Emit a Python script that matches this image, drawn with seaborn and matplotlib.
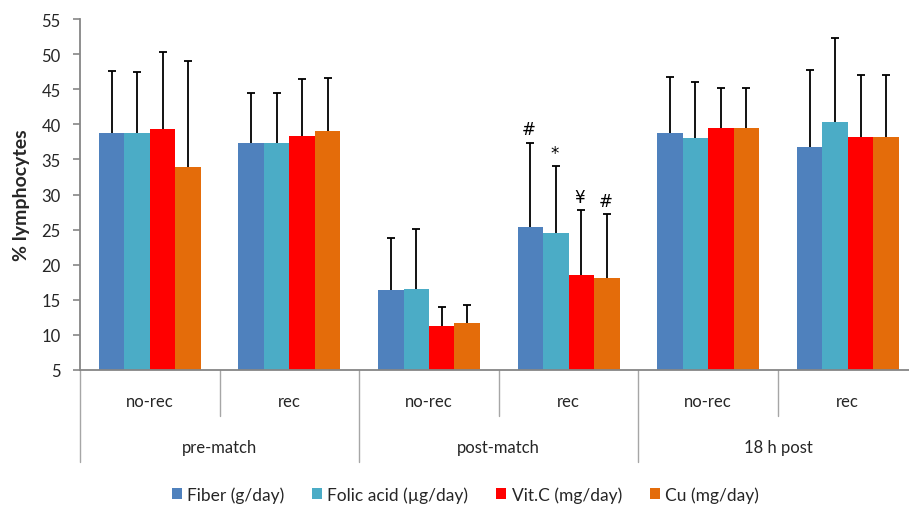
import pandas as pd
import numpy as np
import seaborn as sns
import matplotlib.pyplot as plt
from matplotlib.transforms import blended_transform_factory

sns.set_style('white')
plt.rcParams['font.family'] = ['Lato', 'DejaVu Sans']

phases = ['pre-match', 'post-match', '18 h post']
recs = ['no-rec', 'rec']
nutrients = ['Fiber (g/day)', 'Folic acid (µg/day)', 'Vit.C (mg/day)', 'Cu (mg/day)']
colors = ['#4F81BD', '#4BACC6', '#FF0000', '#E46C0A']

# means, one value per phase/rec condition
fiber = [38.8, 37.4, 16.4, 25.4, 38.7, 36.7]
folic = [38.8, 37.3, 16.6, 24.5, 38.1, 40.3]
vitc = [39.3, 38.4, 11.2, 18.6, 39.5, 38.2]
cu = [33.9, 39.1, 11.7, 18.1, 39.5, 38.2]

# SD (upper error bar only)
fiber_sd = [8.8, 7.0, 7.4, 12.0, 8.1, 11.0]
folic_sd = [8.6, 7.1, 8.5, 9.6, 7.9, 12.0]
vitc_sd = [11.0, 8.0, 2.8, 9.2, 5.7, 8.8]
cu_sd = [15.1, 7.5, 2.6, 9.1, 5.7, 8.8]

# significance marks for post-match / rec
marks = ['#', '*', '¥', '#']
mark_cond = 3

conds = [p + '|' + r for p in phases for r in recs]
means = [fiber, folic, vitc, cu]
sds = [fiber_sd, folic_sd, vitc_sd, cu_sd]

rows = []
for n, m, s in zip(nutrients, means, sds):
    for c, v, e in zip(conds, m, s):
        rows.append({'cond': c, 'nutrient': n, 'value': v, 'sd': e})
df = pd.DataFrame(rows)

fig = plt.figure(figsize=(9.09, 5.06), dpi=100)
ax = fig.add_axes([80 / 909, 135 / 506, 837.6 / 909, 351 / 506])

sns.barplot(data=df, x='cond', y='value', hue='nutrient', order=conds,
            hue_order=nutrients, palette=colors, width=0.73, gap=0,
            errorbar=None, linewidth=0, saturation=1, ax=ax)

bar_conts = list(ax.containers)
for j, cont in enumerate(bar_conts):
    xs = [b.get_x() + b.get_width() / 2 for b in cont]
    hs = [b.get_height() for b in cont]
    eb = ax.errorbar(xs, hs, yerr=[np.zeros(len(hs)), sds[j]], fmt='none',
                     ecolor='black', elinewidth=1.3, capsize=3.2, capthick=1.3)
    eb[1][0].set_visible(False)  # no cap at the bar top
    top = hs[mark_cond] + sds[j][mark_cond]
    ax.annotate(marks[j], (xs[mark_cond], top), xytext=(-1, 3),
                textcoords='offset points', ha='center', va='bottom',
                fontsize=12, color='black', family=['DejaVu Sans'])

ax.set_xlim(-0.5, 5.5)
ax.set_ylim(5, 55)
ax.set_yticks(range(5, 56, 5))
ax.tick_params(axis='y', labelsize=12, length=5, width=1.2,
               color='#868686', direction='out', left=True, pad=9)
ax.set_xticks([])
ax.set_xlabel('')
ax.set_ylabel('% lymphocytes', fontsize=14, fontweight='bold')
ax.yaxis.set_label_coords(-0.06, 0.5)
for side in ['top', 'right']:
    ax.spines[side].set_visible(False)
for side in ['left', 'bottom']:
    ax.spines[side].set_color('#868686')
    ax.spines[side].set_linewidth(1.3)

# hierarchical category axis
tr = blended_transform_factory(ax.transData, ax.transAxes)
for i, c in enumerate(conds):
    ax.text(i, -0.088, c.split('|')[1], transform=tr, ha='center',
            va='center', fontsize=12)
    if i % 2 == 1:
        ax.plot([i - 0.5, i - 0.5], [0, -0.131], transform=tr,
                color='#A6A6A6', lw=1, clip_on=False)
for k, p in enumerate(phases):
    ax.text(2 * k + 0.5, -0.219, p, transform=tr, ha='center',
            va='center', fontsize=12)
    ax.plot([2 * k - 0.5, 2 * k - 0.5], [0, -0.262], transform=tr,
            color='#A6A6A6', lw=1, clip_on=False)

sns.move_legend(ax, 'center', bbox_to_anchor=(0.46, -0.355), ncol=4,
                frameon=False, title=None, fontsize=12.5, handlelength=0.58,
                handleheight=0.58, handletextpad=0.3, columnspacing=1.6)

fig.savefig('out.png', dpi=100)
